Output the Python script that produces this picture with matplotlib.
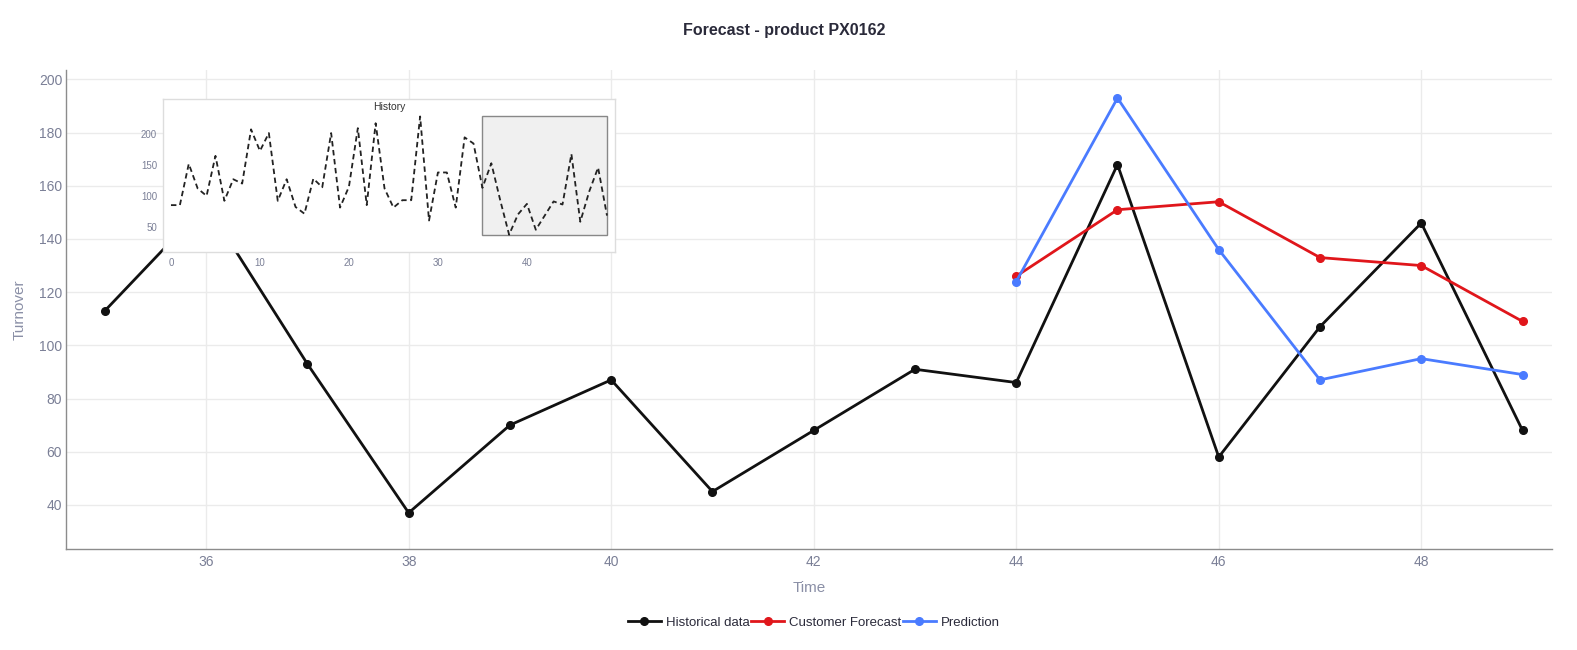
import matplotlib
matplotlib.use("Agg")
import matplotlib.pyplot as plt
from matplotlib.patches import Rectangle

plt.rcParams['font.family'] = ['Liberation Sans', 'DejaVu Sans']

# ---- data ----
hist_time = list(range(35, 50))
hist_vals = [113, 153, 93, 37, 70, 87, 45, 68, 91, 86, 168, 58, 107, 146, 68]

fc_time = list(range(44, 50))
customer_forecast = [126, 151, 154, 133, 130, 109]
prediction = [124, 193, 136, 87, 95, 89]

history_idx = list(range(0, 50))
history_vals = [85, 85, 152, 112, 100, 165, 92, 127, 120, 208,
                173, 202, 92, 127, 82, 71, 128, 114, 202, 81,
                115, 210, 85, 218, 112, 81, 93, 93, 229, 60,
                138, 138, 81, 195, 185, 113, 153, 93, 37, 70,
                87, 45, 68, 91, 86, 168, 58, 107, 146, 68]

xticks = [36, 38, 40, 42, 44, 46, 48]
yticks = [40, 60, 80, 100, 120, 140, 160, 180, 200]
inset_xticks = [0, 10, 20, 30, 40]
inset_yticks = [50, 100, 150, 200]

TICK_C = '#7a7f96'
LABEL_C = '#8a8fa6'
GRID_C = '#ebebeb'
W, H = 1577, 650

fig = plt.figure(figsize=(15.77, 6.5), dpi=100)
ax = fig.add_axes([66.4/W, 1-549/H, (1551.9-66.4)/W, (549-70.4)/H])

ax.plot(hist_time, hist_vals, color='#111111', lw=2, marker='o', ms=5.5, label='Historical data', zorder=3)
ax.plot(fc_time, customer_forecast, color='#e0161b', lw=2, marker='o', ms=5.5, label='Customer Forecast', zorder=3)
ax.plot(fc_time, prediction, color='#4a7bff', lw=2, marker='o', ms=5.5, label='Prediction', zorder=3)

ax.set_xlim(34.62, 49.29)
ax.set_ylim(23.4, 203.4)
ax.set_xticks(xticks)
ax.set_yticks(yticks)
ax.grid(True, color=GRID_C, lw=1)
ax.set_axisbelow(True)
for s in ['top', 'right']:
    ax.spines[s].set_visible(False)
for s in ['left', 'bottom']:
    ax.spines[s].set_color('#8c8c8c')
    ax.spines[s].set_linewidth(1)
ax.tick_params(axis='both', length=0, labelsize=10, labelcolor=TICK_C)
ax.tick_params(axis='x', pad=4)
ax.tick_params(axis='y', pad=3)
ax.set_xlabel('Time', color=LABEL_C, fontsize=11, labelpad=9)
ax.set_ylabel('Turnover', color=LABEL_C, fontsize=11, labelpad=9)

fig.text(784/W, 1-30.2/H, 'Forecast - product PX0162', ha='center', va='center',
         fontsize=11.5, fontweight='bold', color='#2a2a3a')

leg = fig.legend(loc='center', bbox_to_anchor=(814/W, 1-622.5/H), ncol=3, frameon=False,
                 fontsize=9.5, handlelength=2.5, handletextpad=0.4, columnspacing=0.1,
                 labelcolor='#2a2a3a')

# ---- inset ----
ins = fig.add_axes([162.7/W, 1-252.3/H, (615-162.7)/W, (252.3-99.3)/H], zorder=5)
ins.set_facecolor('white')
ins.plot(history_idx, history_vals, color='#222222', lw=1.3, ls=(0, (3, 2)))
ins.set_xlim(-0.93, 49.9)
ins.set_ylim(8.4, 256.8)
ymin, ymax = min(history_vals[35:]), max(history_vals)
ins.add_patch(Rectangle((35, ymin), 49 - 35, ymax - ymin, facecolor='#f0f0f0',
                        edgecolor='#888888', lw=1, zorder=0.5))
ins.set_xticks(inset_xticks)
ins.set_yticks(inset_yticks)
ins.tick_params(axis='both', length=0, labelsize=7, labelcolor=TICK_C)
ins.tick_params(axis='x', pad=4)
ins.tick_params(axis='y', pad=4)
for s in ins.spines.values():
    s.set_color('#dddddd')
    s.set_linewidth(1)
ins.text(0.5, 1 - 7.4/153, 'History', transform=ins.transAxes, ha='center', va='center',
         fontsize=7.5, color='#333333')

fig.savefig('out.png', dpi=100, facecolor='white')
